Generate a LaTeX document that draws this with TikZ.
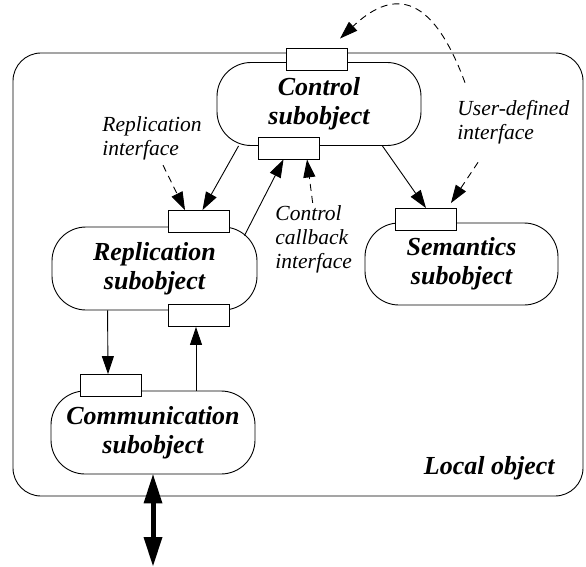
\documentclass[tikz,border=0pt]{standalone}
\usepackage{fontspec}
\setmainfont{Liberation Serif}
\usepackage{tikz}
\usetikzlibrary{arrows.meta, positioning, calc}

\tikzset{
  subobj/.style={draw, rounded corners=34pt, minimum width=204pt, minimum height=83pt,
    inner sep=0pt, align=center, font=\bfseries\itshape\fontsize{26}{29}\selectfont},
  iface/.style={draw, fill=white, minimum width=61pt, minimum height=22pt, inner sep=0pt},
  note/.style={inner sep=0pt, align=left, font=\itshape\fontsize{21.5}{24}\selectfont},
  link/.style={-{Triangle[length=18pt,width=12pt]}},
  hint/.style={link, dash pattern=on 7pt off 5pt}
}

\begin{document}
\begin{tikzpicture}[x=1pt, y=-1pt, line width=0.9pt]
  \useasboundingbox (0,0) rectangle (586,567);
  \node[draw, rounded corners=28pt, minimum width=570pt, minimum height=443pt] (local) at (298,274.5) {};
  \node[anchor=base east, inner sep=0pt, font=\bfseries\itshape\fontsize{26}{29}\selectfont] (locallbl) at (555,474) {Local object};

  \node[subobj] (ctrl) at (319,104) {Control\\subobject};
  \node[subobj, minimum width=205pt] (repl) at (154.5,268.5) {Replication\\subobject};
  \node[subobj, minimum width=193pt, minimum height=82pt] (sem) at (461.5,264) {Semantics\\subobject};
  \node[subobj] (comm) at (153,432.5) {Communication\\subobject};

  \node[iface] (ctrltop) at (316.5,59) {};
  \node[iface] (ctrlbot) at (288.5,148) {};
  \node[iface] (repltop) at (198.5,221.5) {};
  \node[iface] (replbot) at (198.5,315.5) {};
  \node[iface] (semtop) at (426,219.5) {};
  \node[iface] (commtop) at (110.5,385.5) {};

  \node[note, anchor=west] (repllbl) at (102,138) {Replication\\interface};
  \node[note, anchor=west] (cblbl) at (275,239) {Control\\callback\\interface};
  \node[note, anchor=west] (userlbl) at (457,122) {User-defined\\interface};

  \draw[link] ($(ctrl.south west)+(22,0)$) -- ($(repltop.north)+(4,0)$);
  \draw[link] ($(repl.north east)+(-13,9)$) -- ($(ctrlbot.south)+(-5,0)$);
  \draw[link] ($(ctrl.south east)+(-39,0)$) -- (semtop.north);
  \draw[link] ($(repl.south west)+(56,0)$) -- ($(commtop.north)+(-2.5,0)$);
  \draw[link] ($(comm.north)+(43,0)$) -- ($(replbot.south)+(-2.5,0)$);

  \draw[hint] ($(repllbl.south)+(11,5)$) -- ($(repltop.north)+(-13.5,0)$);
  \draw[hint] ($(cblbl.north)+(-1,-2)$) -- ($(ctrlbot.south)+(18.5,0)$);
  \draw[hint] ($(userlbl.south west)+(21,18)$) -- ($(semtop.north east)+(-6,-5)$);
  \draw[hint] ($(userlbl.north west)+(8,-17)$) .. controls +(-35,-95) and +(50,-47) .. ($(ctrltop.north)+(23.5,-9)$);

  \coordinate (ext) at (153,566);
  \draw[line width=5pt, {Triangle[length=29pt,width=19pt,line width=0pt]}-{Triangle[length=29pt,width=19pt,line width=0pt]}] (comm.south) -- (ext);
\end{tikzpicture}
\end{document}
